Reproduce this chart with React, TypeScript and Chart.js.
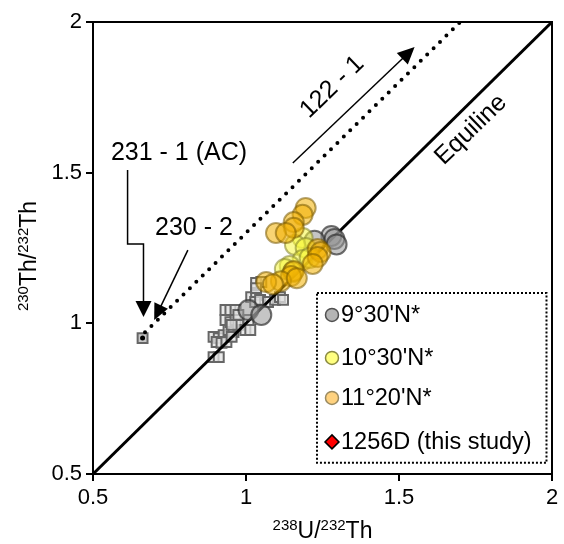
import React, { useEffect, useRef } from "react";
import { Chart, registerables } from "chart.js";
Chart.register(...registerables);

const FONT = "'Liberation Sans', Arial, sans-serif";

const axisTicks = [0.5, 1, 1.5, 2];
const xTitleParts = [["238", true], ["U/", false], ["232", true], ["Th", false]] as [string, boolean][];
const yTitleParts = [["230", true], ["Th/", false], ["232", true], ["Th", false]] as [string, boolean][];

// Grey squares (older data)
const squareX = [0.894, 0.911, 0.894, 0.911, 0.927, 0.904, 0.920, 0.936, 0.943, 0.959, 0.953, 0.933, 0.949, 0.966, 0.975, 0.953, 0.933, 0.949, 0.966, 0.975, 0.998, 1.014, 1.008, 1.017, 1.033, 1.030, 1.046, 1.033, 1.050, 1.033, 1.072, 1.095, 1.111, 1.121];
const squareY = [0.888, 0.888, 0.955, 0.951, 0.961, 0.938, 0.935, 0.938, 0.978, 0.971, 0.955, 1.011, 1.004, 1.011, 0.995, 0.995, 1.044, 1.044, 1.044, 1.028, 0.978, 0.978, 1.011, 1.087, 1.094, 1.071, 1.078, 1.134, 1.137, 1.117, 1.071, 1.078, 1.087, 1.078];

// 231-1 (AC) sample
const acX = [0.662];
const acY = [0.951];

// 9°30'N*
const n930X = [1.008, 1.050, 1.279, 1.289, 1.296, 1.224];
const n930Y = [1.044, 1.028, 1.290, 1.280, 1.262, 1.274];

// 10°30'N*
const n1030X = [1.185, 1.160, 1.195, 1.185, 1.208, 1.143, 1.127, 1.153];
const n1030Y = [1.283, 1.260, 1.250, 1.210, 1.217, 1.190, 1.180, 1.170];

// 11°20'N*
const n1120X = [1.195, 1.185, 1.156, 1.156, 1.098, 1.130, 1.234, 1.244, 1.234, 1.218, 1.156, 1.147, 1.114, 1.066, 1.088, 1.166];
const n1120Y = [1.383, 1.360, 1.336, 1.317, 1.300, 1.300, 1.247, 1.237, 1.220, 1.197, 1.174, 1.157, 1.140, 1.137, 1.130, 1.150];

// 1256D (this study)
const d1256X: number[] = [];
const d1256Y: number[] = [];

// Lines
const equiX = [0.5, 2];
const equiY = [0.5, 2];
const trendX = [0.67, 1.7];
const trendY = [0.97, 2.0];

const legendLabels = ["9°30'N*", "10°30'N*", "11°20'N*", "1256D (this study)"];

const zip = (xs: number[], ys: number[]) => xs.map((x, i) => ({ x, y: ys[i] }));

function drawArrowHead(ctx: CanvasRenderingContext2D, fx: number, fy: number, tx: number, ty: number, len: number, wid: number) {
  const a = Math.atan2(ty - fy, tx - fx);
  ctx.save();
  ctx.translate(tx, ty);
  ctx.rotate(a);
  ctx.beginPath();
  ctx.moveTo(0, 0);
  ctx.lineTo(-len, -wid / 2);
  ctx.lineTo(-len, wid / 2);
  ctx.closePath();
  ctx.fillStyle = "#000";
  ctx.fill();
  ctx.restore();
}

function drawSupText(ctx: CanvasRenderingContext2D, parts: [string, boolean][], cx: number, cy: number, big: number, small: number) {
  let total = 0;
  for (const [t, sup] of parts) {
    ctx.font = `${sup ? small : big}px ${FONT}`;
    total += ctx.measureText(t).width;
  }
  let x = cx - total / 2;
  ctx.textBaseline = "alphabetic";
  ctx.textAlign = "left";
  ctx.fillStyle = "#000";
  for (const [t, sup] of parts) {
    ctx.font = `${sup ? small : big}px ${FONT}`;
    ctx.fillText(t, x, sup ? cy - big * 0.36 : cy);
    x += ctx.measureText(t).width;
  }
}

const overlayPlugin = {
  id: "overlay",
  afterDraw(chart: any) {
    const ctx: CanvasRenderingContext2D = chart.ctx;
    const xs = chart.scales.x;
    const ys = chart.scales.y;
    const X = (v: number) => xs.getPixelForValue(v);
    const Y = (v: number) => ys.getPixelForValue(v);
    const ca = chart.chartArea;
    ctx.save();
    // frame
    ctx.strokeStyle = "#000";
    ctx.lineWidth = 2;
    ctx.strokeRect(ca.left, ca.top, ca.right - ca.left, ca.bottom - ca.top);

    // texts
    ctx.fillStyle = "#000";
    ctx.textAlign = "center";
    ctx.textBaseline = "middle";
    ctx.font = `25px ${FONT}`;
    ctx.fillText("231 - 1 (AC)", X(0.781), Y(1.565));
    ctx.fillText("230 - 2", X(0.83), Y(1.316));

    ctx.save();
    ctx.translate(X(1.282), Y(1.784));
    ctx.rotate(-44 * Math.PI / 180);
    ctx.fillText("122 - 1", 0, 0);
    ctx.restore();

    ctx.save();
    ctx.translate(X(1.735), Y(1.642));
    ctx.rotate(-44 * Math.PI / 180);
    ctx.fillText("Equiline", 0, 0);
    ctx.restore();

    // arrows
    ctx.strokeStyle = "#000";
    ctx.lineWidth = 1.5;
    // elbow arrow 231-1
    const p1 = [X(0.613), Y(1.509)], p2 = [X(0.613), Y(1.263)], p3 = [X(0.665), Y(1.263)], p4 = [X(0.665), Y(1.021)];
    ctx.beginPath();
    ctx.moveTo(p1[0], p1[1]);
    ctx.lineTo(p2[0], p2[1]);
    ctx.lineTo(p3[0], p3[1]);
    ctx.lineTo(p4[0], p4[1] - 12);
    ctx.stroke();
    drawArrowHead(ctx, p3[0], p3[1], p4[0], p4[1], 16, 16);
    // 230-2 arrow
    const a1 = [X(0.81), Y(1.243)], a2 = [X(0.7), Y(1.011)];
    ctx.beginPath();
    ctx.moveTo(a1[0], a1[1]);
    ctx.lineTo(a2[0] + (a1[0] - a2[0]) * 0.12, a2[1] + (a1[1] - a2[1]) * 0.12);
    ctx.stroke();
    drawArrowHead(ctx, a1[0], a1[1], a2[0], a2[1], 16, 15);
    // 122-1 arrow
    const b1 = [X(1.153), Y(1.532)], b2 = [X(1.551), Y(1.917)];
    ctx.beginPath();
    ctx.moveTo(b1[0], b1[1]);
    ctx.lineTo(b2[0] - (b2[0] - b1[0]) * 0.06, b2[1] - (b2[1] - b1[1]) * 0.06);
    ctx.stroke();
    drawArrowHead(ctx, b1[0], b1[1], b2[0], b2[1], 17, 16);

    // legend
    const lx = X(1.232), ly = Y(1.101), lr = X(1.982), lb = Y(0.537);
    ctx.setLineDash([2, 2]);
    ctx.lineWidth = 2;
    ctx.strokeRect(lx, ly, lr - lx, lb - ly);
    ctx.setLineDash([]);
    const rows = [ly + 22, ly + 65, ly + 105, ly + 149];
    const mx = lx + 15;
    const fills = ["#b4b4b4", "#ffff80", "#ffd27f"];
    const strokes = ["#505050", "#8a8a40", "#9a8a60"];
    for (let i = 0; i < 4; i++) {
      const ry = rows[i];
      if (i < 3) {
        ctx.beginPath();
        ctx.arc(mx, ry, 6.5, 0, Math.PI * 2);
        ctx.fillStyle = fills[i];
        ctx.fill();
        ctx.lineWidth = 1.5;
        ctx.strokeStyle = strokes[i];
        ctx.stroke();
      } else {
        ctx.beginPath();
        ctx.moveTo(mx, ry - 7);
        ctx.lineTo(mx + 7, ry);
        ctx.lineTo(mx, ry + 7);
        ctx.lineTo(mx - 7, ry);
        ctx.closePath();
        ctx.fillStyle = "#ff0000";
        ctx.fill();
        ctx.lineWidth = 1.5;
        ctx.strokeStyle = "#000";
        ctx.stroke();
      }
      ctx.fillStyle = "#000";
      ctx.font = `23.5px ${FONT}`;
      ctx.textAlign = "left";
      ctx.textBaseline = "middle";
      ctx.fillText(legendLabels[i], mx + 9, ry + 1);
    }

    // axis titles
    drawSupText(ctx, xTitleParts, (ca.left + ca.right) / 2, 538, 23, 15);
    ctx.save();
    ctx.translate(36, (ca.top + ca.bottom) / 2 + 8);
    ctx.rotate(-Math.PI / 2);
    drawSupText(ctx, yTitleParts, 0, 0, 23, 15);
    ctx.restore();

    ctx.restore();
  },
};

export default function App() {
  const ref = useRef<HTMLCanvasElement>(null);
  useEffect(() => {
    document.body.style.margin = "0";
    const canvas = ref.current!;
    const fmt = (v: any) => (axisTicks.includes(Number(v)) ? String(Number(v)) : "");
    const chart = new Chart(canvas, {
      type: "scatter",
      data: {
        datasets: [
          {
            label: "11°20'N*",
            data: zip(n1120X, n1120Y),
            pointRadius: 10,
            backgroundColor: "rgba(242,176,0,0.55)",
            borderColor: "rgba(120,90,0,0.55)",
            borderWidth: 2,
            order: 1,
          },
          {
            label: "10°30'N*",
            data: zip(n1030X, n1030Y),
            pointRadius: 10,
            backgroundColor: "rgba(245,245,60,0.55)",
            borderColor: "rgba(130,130,40,0.55)",
            borderWidth: 2,
            order: 2,
          },
          {
            label: "9°30'N*",
            data: zip(n930X, n930Y),
            pointRadius: 10,
            backgroundColor: "rgba(150,150,150,0.55)",
            borderColor: "rgba(50,50,50,0.7)",
            borderWidth: 2,
            order: 3,
          },
          {
            label: "1256D (this study)",
            data: zip(d1256X, d1256Y),
            pointStyle: "rectRot",
            pointRadius: 7,
            backgroundColor: "#ff0000",
            borderColor: "#000",
            borderWidth: 1.5,
            order: 0,
          },
          {
            label: "Equiline",
            data: zip(equiX, equiY),
            showLine: true,
            borderColor: "#000",
            borderWidth: 3,
            pointRadius: 0,
            order: 4,
          },
          {
            label: "trend",
            data: zip(trendX, trendY),
            showLine: true,
            borderColor: "#000",
            borderWidth: 4,
            borderDash: [0, 9],
            borderCapStyle: "round",
            pointRadius: 0,
            order: 4,
          },
          {
            label: "AC dot",
            data: zip(acX, acY),
            pointRadius: 2.5,
            backgroundColor: "#000",
            borderColor: "#000",
            borderWidth: 0,
            order: 5,
          },
          {
            label: "AC",
            data: zip(acX, acY),
            pointStyle: "rect",
            pointRadius: 7,
            backgroundColor: "#c8c8c8",
            borderColor: "#666",
            borderWidth: 2,
            order: 6,
          },
          {
            label: "older",
            data: zip(squareX, squareY),
            pointStyle: "rect",
            pointRadius: 7,
            backgroundColor: "rgba(225,225,225,0.75)",
            borderColor: "#666",
            borderWidth: 2,
            order: 6,
          },
        ],
      } as any,
      options: {
        animation: false,
        responsive: false,
        events: [],
        layout: { padding: { left: 0, top: 22, right: 7, bottom: 0 } },
        plugins: { legend: { display: false }, tooltip: { enabled: false } },
        scales: {
          x: {
            type: "linear",
            min: 0.5,
            max: 2,
            afterFit: (s: any) => { s.height = 70; },
            ticks: { stepSize: 0.5, color: "#000", font: { size: 22, family: FONT }, padding: 4, maxRotation: 0, callback: fmt },
            grid: { display: true, drawOnChartArea: false, drawTicks: true, tickLength: 7, color: "#000", lineWidth: 2 },
            border: { display: true, color: "#000", width: 2 },
          },
          y: {
            type: "linear",
            min: 0.5,
            max: 2,
            afterFit: (s: any) => { s.width = 93; },
            ticks: { stepSize: 0.5, color: "#000", font: { size: 22, family: FONT }, padding: 4, callback: fmt },
            grid: { display: true, drawOnChartArea: false, drawTicks: true, tickLength: 7, color: "#000", lineWidth: 2 },
            border: { display: true, color: "#000", width: 2 },
          },
        },
      } as any,
      plugins: [overlayPlugin],
    });
    return () => chart.destroy();
  }, []);
  return <canvas ref={ref} width={564} height={544} style={{ display: "block", width: 564, height: 544 }} />;
}
